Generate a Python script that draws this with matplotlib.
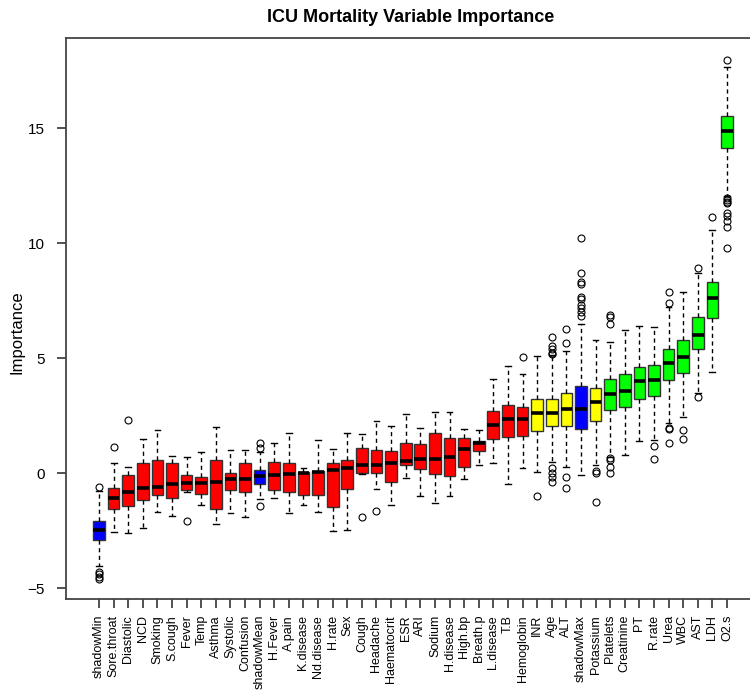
import numpy as np
import matplotlib.pyplot as plt

plt.rcParams['font.family'] = ['Liberation Sans', 'DejaVu Sans']

# Boruta importance summary per attribute
features = ['shadowMin', 'Sore.throat', 'Diastolic', 'NCD', 'Smoking', 'S.cough', 'Fever', 'Temp',
            'Asthma', 'Systolic', 'Confusion', 'shadowMean', 'H.Fever', 'A.pain', 'K.disease',
            'Nd.disease', 'H.rate', 'Sex', 'Cough', 'Headache', 'Haematocrit', 'ESR', 'ARI',
            'Sodium', 'H.disease', 'High.bp', 'Breath.p', 'L.disease', 'T.B', 'Hemoglobin', 'INR',
            'Age', 'ALT', 'shadowMax', 'Potassium', 'Platelets', 'Creatinine', 'PT', 'R.rate',
            'Urea', 'WBC', 'AST', 'LDH', 'O2.s']
decision = (['shadow'] + ['Rejected'] * 10 + ['shadow'] + ['Rejected'] * 18 + ['Tentative'] * 3 +
            ['shadow'] + ['Tentative'] + ['Confirmed'] * 9)

whisker_lo = [-4.05, -2.58, -2.62, -2.38, -1.68, -1.87, -0.83, -1.39, -2.22, -1.75, -1.90,
              -1.15, -1.10, -1.74, -1.39, -1.71, -2.52, -2.48, -0.04, -0.68, -1.39, -0.23,
              -1.01, -1.30, -1.01, -0.28, 0.33, 0.42, -0.46, 0.23, 0.06, 0.48, 0.28, -0.09,
              0.35, 0.71, 0.78, 1.41, 1.43, 2.19, 2.45, 3.46, 4.41, 12.06]
q1 = [-2.91, -1.58, -1.45, -1.19, -0.96, -1.10, -0.74, -0.91, -1.58, -0.74, -0.84,
      -0.48, -0.74, -0.84, -0.96, -0.96, -1.49, -0.68, 0.01, 0.01, -0.38, 0.33,
      0.16, -0.04, -0.12, 0.25, 0.96, 1.46, 1.58, 1.62, 1.84, 2.04, 2.04, 1.93,
      2.28, 2.72, 2.86, 3.20, 3.33, 4.04, 4.36, 5.38, 6.72, 14.12]
median = [-2.48, -1.07, -0.83, -0.65, -0.59, -0.46, -0.42, -0.43, -0.38, -0.28, -0.25,
          -0.13, -0.07, -0.03, 0.00, 0.03, 0.12, 0.22, 0.33, 0.36, 0.43, 0.52,
          0.61, 0.61, 0.70, 1.06, 1.29, 2.10, 2.33, 2.36, 2.59, 2.59, 2.77, 2.77,
          3.07, 3.43, 3.57, 4.00, 4.04, 4.77, 5.04, 6.00, 7.59, 14.88]
q3 = [-2.07, -0.64, -0.09, 0.42, 0.55, 0.42, -0.09, -0.16, 0.55, 0.01, 0.42,
      0.13, 0.49, 0.45, 0.04, 0.10, 0.42, 0.55, 1.09, 1.00, 0.94, 1.29,
      1.25, 1.74, 1.51, 1.51, 1.38, 2.68, 2.94, 2.88, 3.20, 3.23, 3.48, 3.78,
      3.68, 4.09, 4.32, 4.62, 4.68, 5.38, 5.77, 6.77, 8.32, 15.54]
whisker_hi = [-0.80, 0.42, 0.28, 1.49, 1.85, 0.72, 0.70, 0.90, 2.01, 1.00, 1.00,
              0.90, 1.29, 1.74, 0.20, 1.43, 1.04, 1.74, 1.70, 2.25, 2.06, 2.58,
              1.94, 2.65, 2.65, 1.90, 1.87, 4.09, 4.64, 4.29, 5.09, 5.12, 5.30, 6.48,
              5.78, 5.70, 6.22, 6.39, 6.35, 7.20, 7.87, 8.70, 10.57, 17.67]
outliers = [
    [-0.6, -4.3, -4.4, -4.5, -4.6], [1.13], [2.29], [], [], [], [-2.1], [], [], [], [],
    [1.1, 1.32, -1.42], [], [], [], [], [], [], [-1.93], [-1.67], [], [],
    [], [], [], [], [], [], [], [5.04], [-1.0],
    [5.16, 5.23, 5.38, 5.54, 5.9, 0.23, 0.01, -0.19, -0.38],
    [5.64, 6.28, -0.17, -0.65],
    [6.83, 6.99, 7.16, 7.32, 7.55, 7.67, 8.2, 8.32, 8.71, 10.2],
    [0.09, -0.01, -1.28],
    [6.48, 6.8, 6.87, 0.64, 0.57, 0.28, -0.01],
    [], [], [1.17, 0.6],
    [7.4, 7.85, 1.97, 1.9, 1.29],
    [1.88, 1.48], [8.9, 3.3], [11.12],
    [17.96, 11.94, 11.87, 11.8, 11.72, 11.29, 11.19, 10.97, 10.68, 9.77],
]

colours = {'shadow': '#0000FF', 'Rejected': '#FF0000',
           'Tentative': '#FFFF00', 'Confirmed': '#00FF00'}

stats = []
for i, name in enumerate(features):
    stats.append({'label': name, 'whislo': whisker_lo[i], 'q1': q1[i], 'med': median[i],
                  'q3': q3[i], 'whishi': whisker_hi[i], 'fliers': outliers[i]})

fig = plt.figure(figsize=(7.5, 6.97), dpi=100)
ax = fig.add_axes([66 / 750, 1 - 599 / 697, 694 / 750, 561 / 697])

pos = np.arange(1, len(features) + 1)
bp = ax.bxp(stats, positions=pos, widths=0.8, capwidths=0.4, patch_artist=True,
            boxprops=dict(edgecolor='#333333', linewidth=1.0),
            medianprops=dict(color='black', linewidth=2.6, solid_capstyle='butt'),
            whiskerprops=dict(color='black', linewidth=1.0, linestyle=(0, (3, 2.5))),
            capprops=dict(color='black', linewidth=1.0),
            flierprops=dict(marker='o', markerfacecolor='none', markeredgecolor='black',
                            markersize=5, markeredgewidth=0.8))
for patch, d in zip(bp['boxes'], decision):
    patch.set_facecolor(colours[d])

ax.set_xlim(-1.26, len(features) + 2.26)
ax.set_ylim(-5.478, 18.913)
ax.set_xticks(pos)
ax.set_xticklabels(features, rotation=90, fontsize=9)
ax.set_yticks([-5, 0, 5, 10, 15])
ax.tick_params(axis='y', labelsize=11, length=6.5, width=1.2, color='#333333', pad=9)
ax.tick_params(axis='x', length=6.5, width=1.2, color='#333333', pad=5)
for s in ax.spines.values():
    s.set_color('#444444')
    s.set_linewidth(1.3)

ax.set_ylabel('Importance', fontsize=12)
ax.yaxis.set_label_coords(-0.060, (599 - 332) / 561)
fig.text(411 / 750, 1 - 18 / 697, 'ICU Mortality Variable Importance', ha='center',
         va='center', fontsize=13, fontweight='bold')

fig.savefig('out.png', dpi=100)
